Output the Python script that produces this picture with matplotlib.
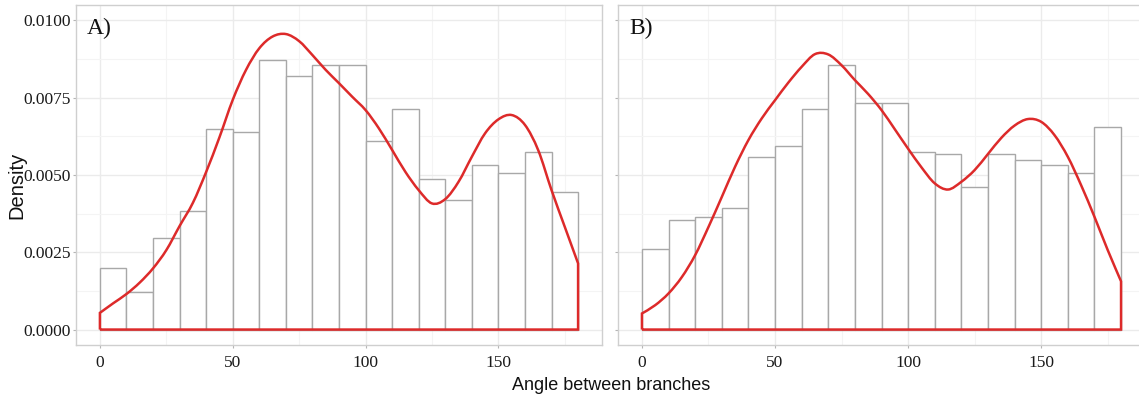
"""
Branch angle distributions
==========================
Histogram (10 degree bins) of the angle between branches, with the
density estimate drawn on top, for two groups side by side.
"""

import numpy as np
import matplotlib.pyplot as plt
from matplotlib.path import Path
from matplotlib.patches import PathPatch
from matplotlib.ticker import MultipleLocator

# histogram bins (degrees)
bin_edges = np.arange(0, 190, 10)

# bar heights per bin, density units
hist_a = [0.00200, 0.00122, 0.00297, 0.00384, 0.00648, 0.00638, 0.00873, 0.00821, 0.00855,
          0.00855, 0.00611, 0.00714, 0.00488, 0.00419, 0.00532, 0.00506, 0.00575, 0.00444]
hist_b = [0.00260, 0.00356, 0.00364, 0.00392, 0.00559, 0.00594, 0.00714, 0.00855, 0.00732,
          0.00733, 0.00575, 0.00567, 0.00460, 0.00567, 0.00548, 0.00531, 0.00505, 0.00654]

# density curve sampled every 5 degrees
curve_x = np.arange(0, 185, 5)
dens_a = [0.00054, 0.00085, 0.00115, 0.00152, 0.00198, 0.00257, 0.00335, 0.00410, 0.00510,
          0.00622, 0.00743, 0.00840, 0.00910, 0.00948, 0.00956, 0.00933, 0.00888, 0.00840,
          0.00797, 0.00753, 0.00710, 0.00651, 0.00581, 0.00510, 0.00451, 0.00408, 0.00422,
          0.00478, 0.00559, 0.00635, 0.00680, 0.00694, 0.00662, 0.00580, 0.00451, 0.00332,
          0.00214]
dens_b = [0.00052, 0.00079, 0.00117, 0.00170, 0.00241, 0.00332, 0.00429, 0.00527, 0.00613,
          0.00683, 0.00742, 0.00799, 0.00850, 0.00891, 0.00890, 0.00855, 0.00807, 0.00762,
          0.00710, 0.00648, 0.00585, 0.00525, 0.00473, 0.00453, 0.00478, 0.00516, 0.00568,
          0.00620, 0.00660, 0.00681, 0.00672, 0.00629, 0.00559, 0.00467, 0.00365, 0.00257,
          0.00156]

panel_labels = ["A)", "B)"]

GRID_MAJOR = "#ebebeb"
GRID_MINOR = "#f4f4f4"
BORDER = "#cfcfcf"
BAR_EDGE = "#a8a8a8"
LINE_RED = "#dd2a2a"


def smooth_path(x, y):
    """Closed density outline: Catmull-Rom curve over the top, flat base."""
    x = np.asarray(x, float)
    y = np.asarray(y, float)
    verts = [(x[0], 0.0), (x[0], y[0])]
    codes = [Path.MOVETO, Path.LINETO]
    n = len(x)
    for i in range(n - 1):
        p0 = np.array([x[max(i - 1, 0)], y[max(i - 1, 0)]])
        p1 = np.array([x[i], y[i]])
        p2 = np.array([x[i + 1], y[i + 1]])
        p3 = np.array([x[min(i + 2, n - 1)], y[min(i + 2, n - 1)]])
        c1 = p1 + (p2 - p0) / 6.0
        c2 = p2 - (p3 - p1) / 6.0
        verts += [tuple(c1), tuple(c2), tuple(p2)]
        codes += [Path.CURVE4] * 3
    verts += [(x[-1], 0.0), (x[0], 0.0)]
    codes += [Path.LINETO, Path.LINETO]
    return Path(verts, codes)


def draw_panel(ax, heights, dens, label, show_ylabels=True):
    ax.bar(bin_edges[:-1], heights, width=10, align="edge",
           facecolor="white", edgecolor=BAR_EDGE, linewidth=1.0, zorder=2)
    ax.add_patch(PathPatch(smooth_path(curve_x, dens), facecolor="none",
                           edgecolor=LINE_RED, linewidth=1.8,
                           joinstyle="miter", zorder=3))

    ax.set_xlim(-9, 189)
    ax.set_ylim(-0.0005, 0.0105)
    ax.xaxis.set_major_locator(MultipleLocator(50))
    ax.xaxis.set_minor_locator(MultipleLocator(25))
    ax.yaxis.set_major_locator(MultipleLocator(0.0025))
    ax.yaxis.set_minor_locator(MultipleLocator(0.00125))
    ax.yaxis.set_major_formatter(plt.FormatStrFormatter("%.4f"))

    ax.grid(which="major", color=GRID_MAJOR, linewidth=1.0, zorder=0)
    ax.grid(which="minor", color=GRID_MINOR, linewidth=0.8, zorder=0)
    ax.set_axisbelow(True)

    for side in ax.spines.values():
        side.set_color(BORDER)
        side.set_linewidth(1.0)

    ax.tick_params(which="major", length=2.5, width=0.8, color="#b5b5b5",
                   labelsize=12.5, labelcolor="#1a1a1a")
    ax.tick_params(axis="y", pad=1)
    ax.tick_params(axis="x", pad=5)
    ax.tick_params(which="minor", length=0)
    for t in ax.get_xticklabels() + ax.get_yticklabels():
        t.set_fontfamily("Liberation Serif")
    if not show_ylabels:
        ax.tick_params(axis="y", labelleft=False)

    ax.text(0.021, 0.932, label, transform=ax.transAxes, ha="left", va="center",
            fontsize=17, fontfamily="Liberation Serif", color="#111111")


W, H = 1139, 398
fig = plt.figure(figsize=(W / 100, H / 100), dpi=100)
ax_a = fig.add_axes([76 / W, 53 / H, 526 / W, 340 / H])
ax_b = fig.add_axes([618 / W, 53 / H, 527 / W, 340 / H])

draw_panel(ax_a, hist_a, dens_a, panel_labels[0])
draw_panel(ax_b, hist_b, dens_b, panel_labels[1], show_ylabels=False)

fig.text(17 / W, 1 - 185 / H, "Density", rotation=90, ha="center", va="center",
         fontsize=14.5, fontfamily="Liberation Sans", color="#111111")
fig.text(611 / W, 1 - 385 / H, "Angle between branches", ha="center", va="center",
         fontsize=13, fontfamily="Liberation Sans", color="#111111")

fig.savefig("out.png", dpi=100)
